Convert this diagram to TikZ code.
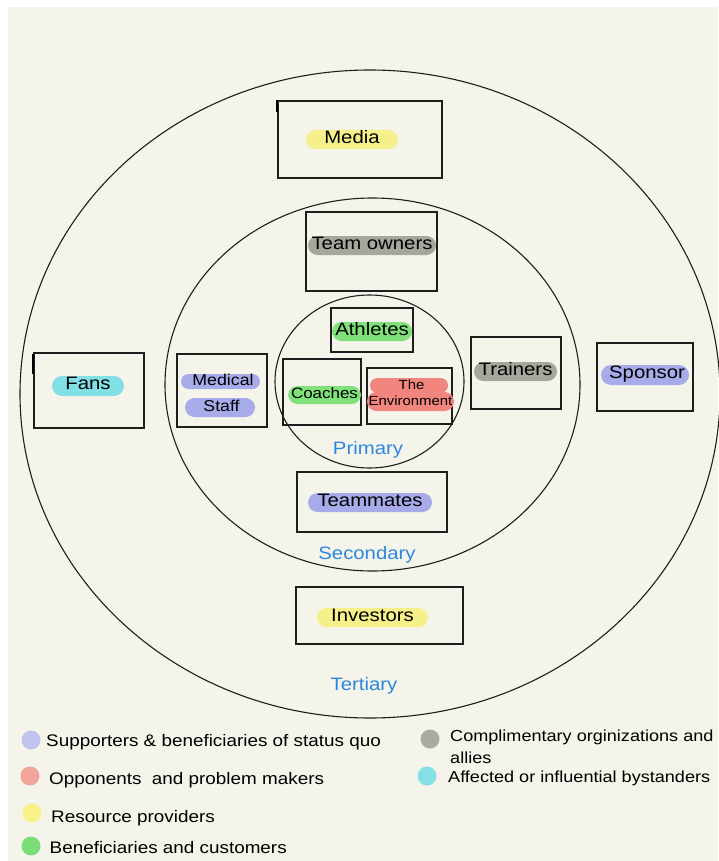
\documentclass[tikz,border=0pt]{standalone}
\usepackage{fontspec}
\setmainfont[FakeStretch=1.13]{Liberation Sans}
\usetikzlibrary{shapes.geometric}
\definecolor{bgc}{HTML}{F4F4EA}
\definecolor{pyel}{HTML}{F5F08A}
\definecolor{pgray}{HTML}{A6A69D}
\definecolor{pgreen}{HTML}{80E07A}
\definecolor{pred}{HTML}{F2857D}
\definecolor{ppur}{HTML}{A8ABEA}
\definecolor{pcyan}{HTML}{80E0E5}
\definecolor{lpur}{HTML}{C0C3EE}
\definecolor{lred}{HTML}{F2A49B}
\definecolor{lyel}{HTML}{F5F28A}
\definecolor{lgreen}{HTML}{7BDD78}
\definecolor{lgray}{HTML}{A9AAA0}
\definecolor{lcyan}{HTML}{86E0E8}
\definecolor{tblue}{HTML}{2D87E0}
\definecolor{ink}{HTML}{1E1E1E}
\tikzset{
  ring/.style={draw=ink, line width=1.1pt, ellipse, inner sep=0pt},
  holder/.style={draw=ink, line width=1.2pt, rectangle, inner sep=0pt},
  pill/.style={rectangle, rounded corners=#1, inner sep=0pt, text=black,
     text height=0.72em, text depth=0pt},
  pill/.default=9.5pt,
  lab/.style={font=\fontsize{18}{20}\selectfont},
  layer/.style={text=tblue, font=\fontsize{18}{20}\selectfont, inner sep=0pt},
  dot/.style={circle, inner sep=0pt, minimum size=19pt},
  legtext/.style={anchor=base west, inner sep=0pt, font=\fontsize{16.7}{20}\selectfont},
  legtextr/.style={anchor=base west, inner sep=0pt, font=\fontsize{16.0}{20}\selectfont},
  tick/.style={line width=2pt, draw=black}
}
\begin{document}
\begin{tikzpicture}[x=1pt,y=-1pt]
\useasboundingbox (0,0) rectangle (718,861);
\fill[white] (0,0) rectangle (718,861);
\fill[bgc] (8,7) rectangle (718,861);

% rings
\node[ring, minimum width=700pt, minimum height=648pt] (outer) at (370,394) {};
\node[ring, minimum width=415pt, minimum height=373pt] (second) at (372.5,384.5) {};
\node[ring, minimum width=189pt, minimum height=173pt] (prim) at (369.5,381.5) {};

% boxes
\node[holder, minimum width=164pt, minimum height=77pt] (mediabox) at (360,139.5) {};
\node[holder, minimum width=131pt, minimum height=79pt] (ownersbox) at (371.5,251.5) {};
\node[holder, minimum width=82pt, minimum height=44pt] (athbox) at (372,330) {};
\node[holder, minimum width=78pt, minimum height=66pt] (coachbox) at (322,392) {};
\node[holder, minimum width=85pt, minimum height=56pt] (envbox) at (409.5,396) {};
\node[holder, minimum width=90pt, minimum height=72pt] (trainbox) at (516,373) {};
\node[holder, minimum width=96pt, minimum height=68pt] (sponbox) at (645,377) {};
\node[holder, minimum width=110pt, minimum height=75pt] (fansbox) at (89,390.5) {};
\node[holder, minimum width=90pt, minimum height=73pt] (medbox) at (222,390.5) {};
\node[holder, minimum width=150pt, minimum height=60pt] (matesbox) at (372,502) {};
\node[holder, minimum width=167pt, minimum height=57pt] (investbox) at (379.5,615.5) {};

\draw[tick] (mediabox.north west) -- ++(0,12);
\draw[tick] ([yshift=-2pt]fansbox.north west) -- ++(0,20);

% pills
\node[pill, lab, fill=pyel, minimum width=92pt, minimum height=19pt] (media) at (352,139.5) {Media};
\node[pill, lab, fill=pgray, minimum width=128pt, minimum height=19pt] (owners) at (372,245.5) {Team owners};
\node[pill, lab, fill=pgreen, minimum width=80pt, minimum height=19pt] (ath) at (372,331.5) {Athletes};
\node[pill, fill=pgreen, minimum width=73pt, minimum height=18pt, font=\fontsize{15}{17}\selectfont] (coach) at (324.5,395) {Coaches};
\node[pill=7.5pt, fill=pred, minimum width=78pt, minimum height=15pt, font=\fontsize{13.2}{15}\selectfont] (envthe) at (409,385.5) {\hspace{5pt}The};
\node[pill, fill=pred, minimum width=87pt, minimum height=19pt, font=\fontsize{13.2}{15}\selectfont] (envenv) at (410.5,401.5) {Environment};
\node[pill, lab, fill=pgray, minimum width=83pt, minimum height=19pt] (train) at (515.5,371.5) {Trainers};
\node[pill=10pt, lab, fill=ppur, minimum width=88pt, minimum height=20pt] (spon) at (645,375) {\hspace{4pt}Sponsor};
\node[pill=10pt, lab, fill=pcyan, minimum width=72pt, minimum height=20pt] (fans) at (88,386) {Fans};
\node[pill=7.5pt, fill=ppur, minimum width=79pt, minimum height=15pt, font=\fontsize{15.7}{17}\selectfont] (med) at (220.5,381.5) {\hspace{5pt}Medical};
\node[pill, fill=ppur, minimum width=70pt, minimum height=19pt, font=\fontsize{15.7}{17}\selectfont] (staff) at (220,407.5) {\hspace{3pt}Staff};
\node[pill, lab, fill=ppur, minimum width=124pt, minimum height=19pt] (mates) at (370,502.5) {Teammates};
\node[pill, lab, fill=pyel, minimum width=111pt, minimum height=19pt] (invest) at (372.5,617.5) {Investors};

% layer labels
\node[layer] (lprim) at (368,450) {Primary};
\node[layer] (lsec) at (367,555) {Secondary};
\node[layer] (lter) at (364,686) {Tertiary};

% legend
\node[dot, fill=lpur] (d1) at (31,740) {};
\node[legtext] (t1) at (46,746) {Supporters \& beneficiaries of status quo};
\node[dot, fill=lred] (d2) at (30,776) {};
\node[legtext] (t2) at (49,784) {Opponents\ \ and problem makers};
\node[dot, fill=lyel] (d3) at (32,813) {};
\node[legtext] (t3) at (51,822) {Resource providers};
\node[dot, fill=lgreen] (d4) at (31,846) {};
\node[legtext] (t4) at (49.5,853) {Beneficiaries and customers};
\node[dot, fill=lgray] (d5) at (430,739) {};
\node[legtextr] (t5) at (450,741) {Complimentary orginizations and};
\node[legtextr] (t5b) at (450,763) {allies};
\node[dot, fill=lcyan] (d6) at (427,776) {};
\node[legtextr] (t6) at (448,782) {Affected or influential bystanders};
\end{tikzpicture}
\end{document}
